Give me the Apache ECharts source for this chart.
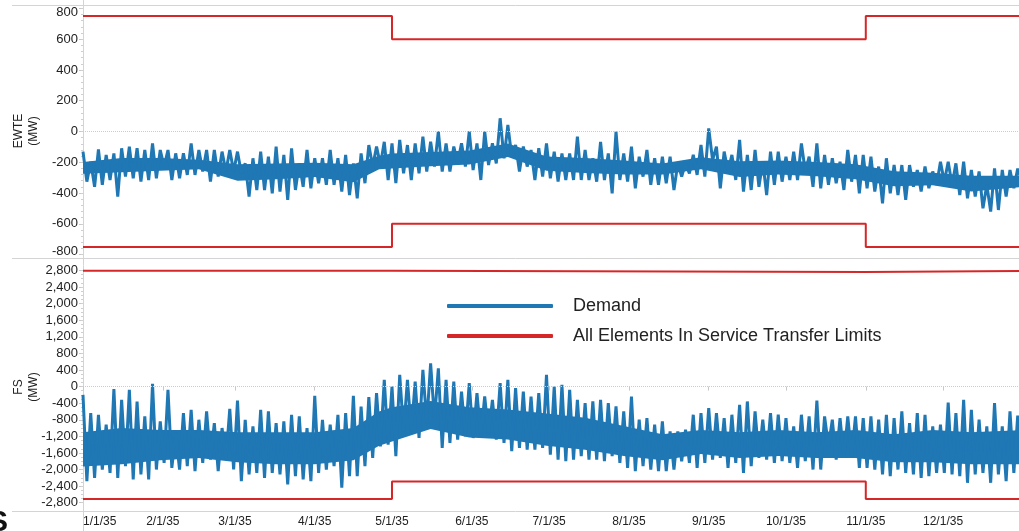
<!DOCTYPE html>
<html>
<head>
<meta charset="utf-8">
<script src="https://cdn.jsdelivr.net/npm/echarts@6/dist/echarts.min.js"></script>
<style>
html,body{margin:0;padding:0;background:#fff;}
#chart{width:1019px;height:531px;}
</style>
</head>
<body>
<div id="chart"></div>
<script>
// ---- data (days since 1/1/35) ----
const BLOCK_DAYS = 3;
const monthDays = [0,31,59,90,120,151,181,212,243,273,304,334];
const monthLabels = ['1/1/35','2/1/35','3/1/35','4/1/35','5/1/35','6/1/35','7/1/35','8/1/35','9/1/35','10/1/35','11/1/35','12/1/35'];
const yTicksTop = [-800,-600,-400,-200,0,200,400,600,800];
const yTicksBottom = [-2800,-2400,-2000,-1600,-1200,-800,-400,0,400,800,1200,1600,2000,2400,2800];

// EWTE demand: per 3-day block high and low
const ewteHigh = [-131,-196,-116,-152,-142,-109,-98,-109,-120,-77,-120,-120,-142,-142,-77,-120,-120,-120,-131,-120,
 -131,-207,-174,-131,-164,-98,-152,-109,-207,-120,-174,-174,-120,-174,-152,-207,-142,-88,-98,-67,
 -77,-55,-88,-77,-34,-67,0,-77,-98,-77,0,-77,0,-77,86,42,-88,-98,-120,-109,
 -77,-131,-142,-142,-34,-120,-174,-67,-142,0,-142,-98,-164,-120,-174,-164,-164,-207,-207,-152,
 -88,20,-98,-131,-152,-55,-152,-120,-196,-131,-131,-164,-131,-77,-164,-77,-152,-174,-196,-120,
 -152,-152,-164,-228,-174,-218,-218,-218,-250,-228,-260,-196,-196,-207,-196,-250,-260,-347,-239,-250,
 -250,-241];
const ewteLow = [-326,-359,-347,-315,-423,-293,-304,-326,-315,-304,-228,-315,-304,-282,-282,-260,-326,-293,-260,-260,
 -272,-423,-380,-380,-402,-390,-444,-380,-359,-369,-336,-347,-347,-390,-413,-434,-336,-228,-218,-315,
 -336,-272,-315,-272,-260,-228,-260,-260,-207,-228,-251,-315,-218,-207,-174,-164,-260,-228,-315,-293,
 -304,-326,-315,-315,-315,-315,-326,-315,-402,-315,-326,-369,-293,-347,-347,-336,-380,-293,-272,-282,
 -293,-185,-369,-260,-315,-390,-380,-359,-413,-347,-326,-315,-315,-260,-359,-369,-347,-336,-380,-326,
 -402,-369,-390,-467,-402,-413,-444,-359,-390,-369,-347,-326,-347,-413,-434,-423,-499,-520,-510,-423,
 -369,-318];
// EWTE dense core of the band, every 15 days
const coreDays = [0,15,30,45,60,75,90,105,115,120,135,150,165,180,195,210,225,240,255,270,285,300,315,330,345,365];
const ewteCoreTop = [-198,-173,-173,-183,-213,-208,-203,-213,-158,-143,-133,-123,-78,-163,-173,-188,-208,-168,-193,-188,-198,-213,-258,-268,-288,-288];
const ewteCoreBottom = [-275,-265,-255,-245,-320,-310,-295,-330,-245,-240,-225,-215,-165,-255,-270,-280,-280,-245,-295,-280,-290,-310,-355,-350,-390,-360];

// FS demand: per 3-day block high and low
const fsHigh = [-200,-640,-680,-920,-63,-320,-80,-360,-720,65,-840,-80,-1120,-640,-560,-800,-600,-880,-1000,-535,
 -335,-800,-960,-560,-600,-880,-840,-680,-720,-1000,-223,-800,-920,-680,-640,-223,-480,-255,-160,161,
 0,281,161,121,401,561,441,161,121,-119,81,-159,-239,-319,81,161,-39,-119,-239,-159,
 281,1,41,-79,-319,-399,-359,-319,-399,-479,-599,-239,-799,-759,-919,-839,-1079,-1079,-1039,-679,
 -639,-519,-639,-759,-679,-439,-359,-599,-799,-639,-679,-759,-959,-679,-719,-335,-719,-799,-759,-719,
 -719,-759,-719,-799,-679,-759,-599,-879,-639,-679,-959,-919,-383,-639,-319,-559,-799,-959,-399,-959,
 -599,-700];
const fsLow = [-2280,-2200,-2000,-2080,-2200,-1920,-2240,-2120,-2240,-2000,-1840,-1960,-2000,-1920,-2040,-1840,-1760,-2040,-1760,-2000,
 -2280,-2120,-2080,-2200,-2080,-2120,-2360,-2160,-2240,-2280,-2080,-2000,-1920,-2440,-2160,-2160,-1920,-1720,-1440,-1400,
 -1680,-1080,-1080,-1240,-880,-800,-1480,-1360,-1280,-1200,-1240,-1200,-1160,-1280,-1360,-1560,-1480,-1520,-1520,-1480,
 -1640,-1760,-1800,-1760,-1680,-1760,-1760,-1800,-1680,-1840,-1960,-2040,-1920,-2000,-2040,-2040,-2000,-1800,-1840,-1960,
 -1840,-1760,-1720,-1960,-1840,-2080,-1920,-1720,-1760,-1840,-1800,-1840,-1960,-1800,-2000,-2000,-1440,-1760,-1720,-1680,
 -1960,-1960,-2000,-2120,-2160,-2000,-2080,-2120,-2200,-2160,-2080,-2080,-2120,-2160,-2320,-2120,-2080,-2320,-2120,-2280,
 -2080,-2000];
// FS dense core of the band, every 15 days
const fsCoreTop = [-1100,-1000,-1050,-1050,-1100,-1100,-1100,-1000,-600,-500,-350,-500,-550,-650,-750,-950,-1150,-1050,-1100,-1050,-1100,-1050,-1150,-1050,-1100,-1050];
const fsCoreBottom = [-1925,-1875,-1775,-1725,-1825,-1875,-1875,-1775,-1425,-1325,-1025,-1225,-1275,-1425,-1525,-1675,-1775,-1625,-1725,-1675,-1725,-1725,-1825,-1825,-1875,-1875];

// transfer limits (step changes on 5/1 and 11/1)
const limitDays = [0,120,120,304,304,365];
const ewteUpper = [750,750,600,600,750,750];
const ewteLower = [-750,-750,-600,-600,-750,-750];
const fsUpper = [2790,2790,2760,2760,2790,2790];
const fsLower = [-2710,-2710,-2290,-2290,-2710,-2710];

// ---- build ----
function zig(hi, lo){
  const out=[];
  for(let i=0;i<hi.length;i++){
    out.push([i*BLOCK_DAYS, hi[i]]);
    out.push([i*BLOCK_DAYS+BLOCK_DAYS/2, lo[i]]);
  }
  return out;
}
function pairs(xs, ys){ return xs.map((x,i)=>[x,ys[i]]); }
function range(a,b,s){ const r=[]; for(let v=a; v<=b+1e-9; v+=s) r.push(v); return r; }

const BLUE='#1f77b4', RED='#d62728', GRID='#d4d4d4', TXT='#222';
const FONT='"Liberation Sans", Arial, sans-serif';
const X_MAX = 363.5;
const LIM = 'All Elements In Service Transfer Limits';

const chart = echarts.init(document.getElementById('chart'));

function xAxis(idx, showLabels){
  return {
    type:'value', gridIndex:idx, min:0, max:X_MAX,
    axisLine:{show:false}, splitLine:{show:false},
    axisTick:{show:showLabels, customValues:monthDays, length:4, lineStyle:{color:'#c8c8c8'}},
    axisLabel:{show:showLabels, customValues:monthDays, margin:5, alignMinLabel:'left',
      fontFamily:FONT, fontSize:12, color:TXT,
      formatter:(v)=>monthLabels[monthDays.indexOf(Math.round(v))] || ''}
  };
}
function yMain(idx, min, max, ticks, nudgeEnds){
  const lo = ticks[0], hi = ticks[ticks.length-1];
  return {
    type:'value', gridIndex:idx, min:min, max:max,
    axisLine:{show:false}, splitLine:{show:false},
    axisTick:{show:true, customValues:ticks, length:4, lineStyle:{color:'#c8c8c8'}},
    axisLabel:{customValues:ticks, margin:5, fontFamily:FONT, fontSize:13, color:TXT,
      rich:{
        dn:{fontFamily:FONT, fontSize:13, color:TXT, padding:[8,0,0,0]},
        up:{fontFamily:FONT, fontSize:13, color:TXT, padding:[0,0,6,0]}
      },
      formatter:(v)=>{
        const s = Number(v).toLocaleString('en-US');
        if(nudgeEnds && v===hi) return '{dn|'+s+'}';
        if(nudgeEnds && v===lo) return '{up|'+s+'}';
        return s;
      }}
  };
}
function yMinor(idx, min, max, ticks){
  return {
    type:'value', gridIndex:idx, min:min, max:max, position:'left',
    axisLine:{show:false}, splitLine:{show:false},
    axisTick:{show:true, customValues:ticks, length:2, lineStyle:{color:'#cfcfcf'}},
    axisLabel:{show:false}
  };
}
const zeroLine = {silent:true, symbol:'none', label:{show:false},
  lineStyle:{color:'#cccccc', type:'dotted', width:1}, data:[{yAxis:0}]};

// dense core of the demand band, drawn as one polygon through the axes' scales
function band(idx, top, bot){
  return {
    type:'custom', xAxisIndex:idx, yAxisIndex:idx, silent:true, clip:true, z:2,
    data:[[0, top[0]]],
    renderItem:function(params, api){
      const pts = [];
      for(let i=0;i<coreDays.length;i++) pts.push(api.coord([coreDays[i], top[i]]));
      for(let i=coreDays.length-1;i>=0;i--) pts.push(api.coord([coreDays[i], bot[i]]));
      return {type:'polygon', shape:{points:pts}, style:{fill:BLUE}};
    }
  };
}

chart.setOption({
  animation:false,
  backgroundColor:'#fff',
  grid:[
    {left:83, right:0, top:5, height:253},
    {left:83, right:0, top:258, height:253}
  ],
  xAxis:[xAxis(0,false), xAxis(1,true)],
  yAxis:[
    yMain(0,-822,822,yTicksTop,true),
    yMain(1,-3000,3100,yTicksBottom,false),
    yMinor(0,-822,822,range(-800,800,40)),
    yMinor(1,-3000,3100,range(-2800,2800,100))
  ],
  legend:{
    orient:'vertical', left:442, top:291, itemWidth:106, itemHeight:4, itemGap:10,
    icon:'roundRect',
    data:['Demand', LIM],
    textStyle:{fontFamily:FONT, fontSize:18, color:TXT, lineHeight:20, padding:[0,0,0,15]}
  },
  series:[
    band(0, ewteCoreTop, ewteCoreBottom),
    band(1, fsCoreTop, fsCoreBottom),
    {name:'Demand', type:'line', xAxisIndex:0, yAxisIndex:0, data:zig(ewteHigh, ewteLow),
      showSymbol:false, color:BLUE, lineStyle:{color:BLUE, width:3}, markLine:zeroLine, z:3},
    {name:'Demand', type:'line', xAxisIndex:1, yAxisIndex:1, data:zig(fsHigh, fsLow),
      showSymbol:false, color:BLUE, lineStyle:{color:BLUE, width:3}, markLine:zeroLine, z:3},
    {name:LIM, type:'line', xAxisIndex:0, yAxisIndex:0, data:pairs(limitDays, ewteUpper),
      showSymbol:false, color:RED, lineStyle:{color:RED, width:2}},
    {name:LIM, type:'line', xAxisIndex:0, yAxisIndex:0, data:pairs(limitDays, ewteLower),
      showSymbol:false, color:RED, lineStyle:{color:RED, width:2}},
    {name:LIM, type:'line', xAxisIndex:1, yAxisIndex:1, data:pairs(limitDays, fsUpper),
      showSymbol:false, color:RED, lineStyle:{color:RED, width:2}},
    {name:LIM, type:'line', xAxisIndex:1, yAxisIndex:1, data:pairs(limitDays, fsLower),
      showSymbol:false, color:RED, lineStyle:{color:RED, width:2}}
  ],
  graphic:[
    {type:'line', shape:{x1:12,y1:5.5,x2:1019,y2:5.5}, style:{stroke:GRID, lineWidth:1}, silent:true},
    {type:'line', shape:{x1:12,y1:258.5,x2:1019,y2:258.5}, style:{stroke:GRID, lineWidth:1}, silent:true},
    {type:'line', shape:{x1:12,y1:511.5,x2:1019,y2:511.5}, style:{stroke:GRID, lineWidth:1}, silent:true},
    {type:'line', shape:{x1:83.5,y1:0,x2:83.5,y2:531}, style:{stroke:GRID, lineWidth:1}, silent:true},
    {type:'text', x:26, y:131, rotation:Math.PI/2,
      style:{text:'EWTE\n(MW)', fontFamily:FONT, fontSize:12, lineHeight:15, fill:TXT, align:'center', verticalAlign:'middle'}},
    {type:'text', x:26, y:387, rotation:Math.PI/2,
      style:{text:'FS\n(MW)', fontFamily:FONT, fontSize:12, lineHeight:15, fill:TXT, align:'center', verticalAlign:'middle'}},
    {type:'text', x:-12, y:508,
      style:{text:'S', fontFamily:FONT, fontSize:30, fontWeight:'bold', fill:'#111', align:'left', verticalAlign:'top'}}
  ]
});
</script>
</body>
</html>
